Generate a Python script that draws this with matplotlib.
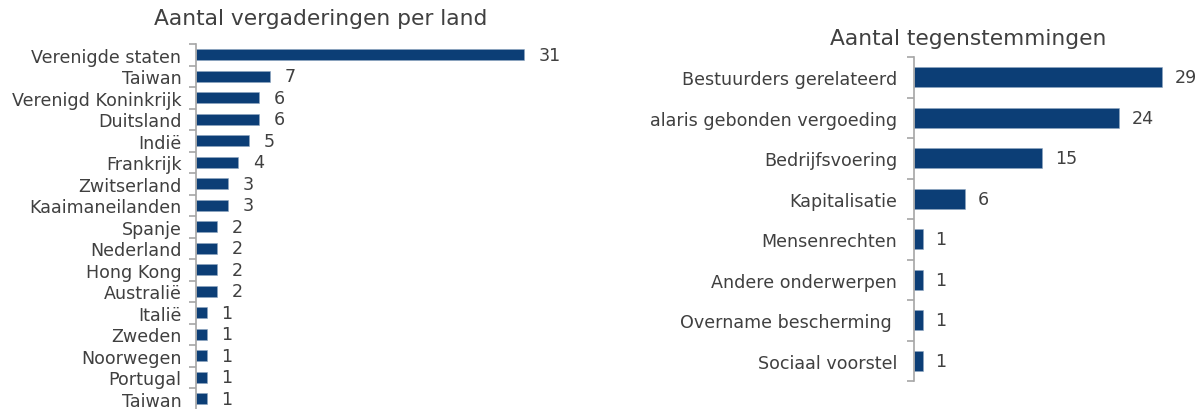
import matplotlib
matplotlib.use("Agg")
import matplotlib.pyplot as plt
import numpy as np

# Data
countries = ["Verenigde staten", "Taiwan", "Verenigd Koninkrijk", "Duitsland", "Indië",
             "Frankrijk", "Zwitserland", "Kaaimaneilanden", "Spanje", "Nederland",
             "Hong Kong", "Australië", "Italië", "Zweden", "Noorwegen", "Portugal", "Taiwan"]
meetings = [31, 7, 6, 6, 5, 4, 3, 3, 2, 2, 2, 2, 1, 1, 1, 1, 1]

topics = ["Bestuurders gerelateerd", "alaris gebonden vergoeding", "Bedrijfsvoering",
          "Kapitalisatie", "Mensenrechten", "Andere onderwerpen",
          "Overname bescherming ", "Sociaal voorstel"]
votes_against = [29, 24, 15, 6, 1, 1, 1, 1]

title_left = "Aantal vergaderingen per land"
title_right = "Aantal tegenstemmingen"

BAR = "#0C3E76"
TXT = "#404040"
AX = "#A6A6A6"

plt.rcParams['font.family'] = ['DejaVu Sans']

W, H = 1201, 410
fig = plt.figure(figsize=(W / 100, H / 100), dpi=100)


def px_axes(x0, y0, x1, y1):
    return fig.add_axes([x0 / W, 1 - y1 / H, (x1 - x0) / W, (y1 - y0) / H])


def draw(ax, labels, values, xmax, height, fs, pad, gap):
    n = len(labels)
    y = np.arange(n)
    ax.barh(y, values, height=height, color=BAR, edgecolor="#8FA6C0", linewidth=0.4)
    ax.set_ylim(n - 0.5, -0.5)
    ax.set_xlim(0, xmax)
    for s in ["top", "right", "bottom"]:
        ax.spines[s].set_visible(False)
    ax.spines["left"].set_color(AX)
    ax.spines["left"].set_linewidth(1.2)
    ax.set_xticks([])
    ax.set_yticks(y)
    ax.set_yticklabels(labels, fontsize=fs, color=TXT)
    ax.tick_params(axis="y", which="major", length=0, pad=pad)
    ax.set_yticks(np.arange(n + 1) - 0.5, minor=True)
    ax.tick_params(axis="y", which="minor", length=5, width=1.2, color=AX, direction="out")
    for yi, v in zip(y, values):
        ax.annotate(str(v), (v, yi), xytext=(gap, 0), textcoords="offset points",
                    va="center", ha="left", fontsize=fs, color=TXT)
    ax.patch.set_alpha(0)


axL = px_axes(196, 45, 580, 410.5)
draw(axL, countries, meetings, (580 - 196) / (328 / 31), 0.52, 12.6, 10.5, 10.5)

axR = px_axes(914, 58, 1195, 382)
draw(axR, topics, votes_against, (1195 - 914) / (248 / 29), 0.5, 12.6, 12, 9)

fig.text(321 / W, 1 - 19 / H, title_left, ha="center", va="center", fontsize=15.7, color=TXT)
fig.text(968 / W, 1 - 39 / H, title_right, ha="center", va="center", fontsize=15.7, color=TXT)

fig.savefig("out.png", dpi=100)
